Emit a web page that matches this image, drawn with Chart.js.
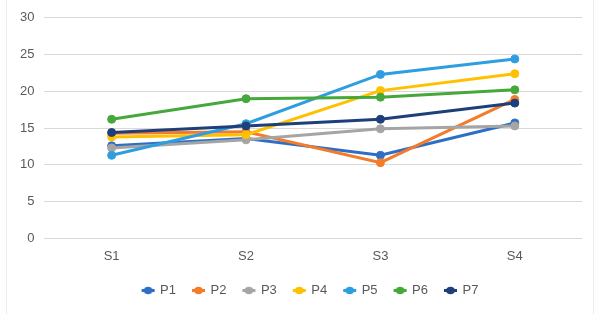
<!DOCTYPE html>
<html>
<head>
<meta charset="utf-8">
<script src="https://cdn.jsdelivr.net/npm/chart.js@4/dist/chart.umd.min.js"></script>
<style>
  html, body { margin: 0; padding: 0; background: #fff; }
  #frame { position: absolute; left: 6px; top: 0; width: 586px; height: 314px; border-left: 1px solid #ececec; border-right: 1px solid #ececec; }
  #wrap { position: absolute; left: 0; top: 0; width: 605px; height: 314px; }
</style>
</head>
<body>
<div id="frame"></div>
<div id="wrap"><canvas id="chart"></canvas></div>
<script>
// data
const categories = ['S1', 'S2', 'S3', 'S4'];
const seriesNames = ['P1', 'P2', 'P3', 'P4', 'P5', 'P6', 'P7'];
const p1 = [12.6, 13.6, 11.3, 15.7];
const p2 = [14.3, 14.5, 10.3, 18.9];
const p3 = [12.3, 13.4, 14.9, 15.3];
const p4 = [13.8, 14.1, 20.1, 22.4];
const p5 = [11.3, 15.6, 22.3, 24.4];
const p6 = [16.2, 19.0, 19.2, 20.2];
const p7 = [14.4, 15.3, 16.2, 18.4];
const yTicks = [0, 5, 10, 15, 20, 25, 30];

const seriesValues = [p1, p2, p3, p4, p5, p6, p7];
const colors = ['#2e6fc4', '#f47b2a', '#a5a5a5', '#ffc000', '#2f9ee0', '#46a83a', '#1f3f7a'];

// legend marker: short line with a dot, like the Excel legend
// (drawn on the right part of the image so it sits closer to its text)
function legendMarker(color) {
    const c = document.createElement('canvas');
    c.width = 30;
    c.height = 9;
    const ctx = c.getContext('2d');
    ctx.strokeStyle = color;
    ctx.lineWidth = 3;
    ctx.beginPath();
    ctx.moveTo(13, 4.5);
    ctx.lineTo(26, 4.5);
    ctx.stroke();
    ctx.fillStyle = color;
    ctx.beginPath();
    ctx.ellipse(19.5, 4.5, 4.5, 3.8, 0, 0, Math.PI * 2);
    ctx.fill();
    return c;
}
const markers = colors.map(legendMarker);

const datasets = seriesNames.map((name, i) => ({
    label: name,
    data: seriesValues[i],
    borderColor: colors[i],
    backgroundColor: colors[i],
    borderWidth: 3,
    pointRadius: 4,
    pointHoverRadius: 4,
    pointBorderWidth: 1,
    tension: 0,
    order: seriesNames.length - i
}));

const font = { family: 'Liberation Sans', size: 13 };

// nudge the legend row to the right, where the reference has it
const legendShift = {
    id: 'legendShift',
    afterLayout(chart) {
        if (chart.legend) {
            chart.legend.left += 10;
            chart.legend.right += 10;
        }
    }
};

new Chart(document.getElementById('chart'), {
    type: 'line',
    data: { labels: categories, datasets: datasets },
    plugins: [legendShift],
    options: {
        responsive: true,
        maintainAspectRatio: false,
        animation: false,
        layout: { padding: { left: 10, right: 23, top: 16, bottom: 7 } },
        plugins: {
            tooltip: { enabled: false },
            legend: {
                position: 'bottom',
                labels: {
                    usePointStyle: true,
                    pointStyleWidth: 20,
                    boxHeight: 9,
                    padding: 8,
                    color: '#595959',
                    font: font,
                    generateLabels: (chart) => {
                        const items = Chart.defaults.plugins.legend.labels.generateLabels(chart);
                        items.forEach(it => { it.pointStyle = markers[it.datasetIndex]; });
                        return items;
                    },
                    sort: (a, b) => a.datasetIndex - b.datasetIndex
                }
            }
        },
        scales: {
            x: {
                offset: true,
                grid: { display: false, drawTicks: false },
                border: { display: false },
                ticks: { color: '#595959', font: font, padding: 10 },
                afterFit: (axis) => { axis.height += 2; }
            },
            y: {
                min: 0,
                max: 30,
                afterBuildTicks: (axis) => { axis.ticks = yTicks.map(v => ({ value: v })); },
                grid: { color: '#d9d9d9', drawTicks: false },
                border: { display: false },
                ticks: { color: '#595959', font: font, padding: 10 }
            }
        }
    }
});
</script>
</body>
</html>
